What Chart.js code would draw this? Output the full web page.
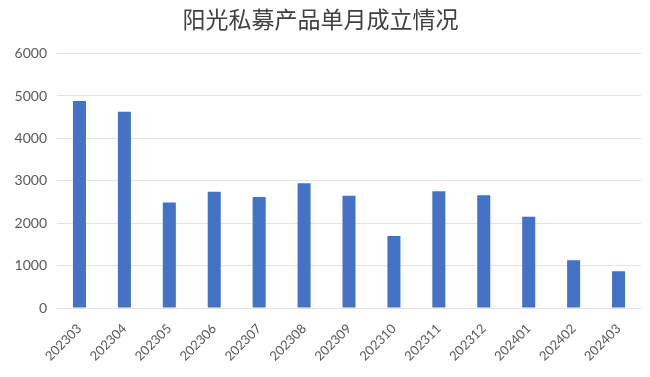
<!DOCTYPE html>
<html>
<head>
<meta charset="utf-8">
<script src="https://cdn.jsdelivr.net/npm/chart.js@4"></script>
<style>
html,body{margin:0;padding:0;background:#fff;}
#wrap{width:650px;height:377px;position:relative;}
</style>
</head>
<body>
<div id="wrap"><canvas id="c" width="650" height="377"></canvas></div>
<script>
const categories = ["202303","202304","202305","202306","202307","202308","202309","202310","202311","202312","202401","202402","202403"];
const counts = [4880, 4630, 2490, 2740, 2620, 2945, 2645, 1700, 2755, 2660, 2150, 1125, 865];
const yTicks = [0, 1000, 2000, 3000, 4000, 5000, 6000];
const titleText = "阳光私募产品单月成立情况";

new Chart(document.getElementById('c'), {
  type: 'bar',
  data: {
    labels: categories,
    datasets: [{
      data: counts,
      backgroundColor: '#4472C4',
      borderWidth: 0,
      barPercentage: 0.29,
      categoryPercentage: 1.0
    }]
  },
  options: {
    responsive: false,
    animation: false,
    devicePixelRatio: 1,
    layout: { padding: { top: 0, right: 9, bottom: 0, left: 0 } },
    plugins: {
      legend: { display: false },
      tooltip: { enabled: false },
      title: {
        display: true,
        text: titleText,
        color: '#404040',
        font: { family: "'Noto Sans CJK SC', sans-serif", size: 23, weight: 'normal', lineHeight: 1.2 },
        padding: { top: 5, bottom: 21 }
      }
    },
    scales: {
      x: {
        grid: { display: false, drawTicks: false },
        border: { display: false },
        ticks: {
          color: '#595959',
          font: { family: 'Lato', size: 13 },
          maxRotation: 45,
          minRotation: 45,
          padding: 13,
          autoSkip: false
        },
        afterFit: (s) => { s.height = 69; }
      },
      y: {
        min: 0,
        max: 6000,
        afterBuildTicks: (s) => { s.ticks = yTicks.map(v => ({ value: v })); },
        grid: { color: '#e4e4e4', lineWidth: 1, drawTicks: false },
        border: { display: false },
        ticks: {
          color: '#595959',
          font: { family: 'Lato', size: 14 },
          padding: 10,
          callback: (v) => String(v)
        },
        afterFit: (s) => { s.width = 57; }
      }
    }
  }
});
</script>
</body>
</html>
